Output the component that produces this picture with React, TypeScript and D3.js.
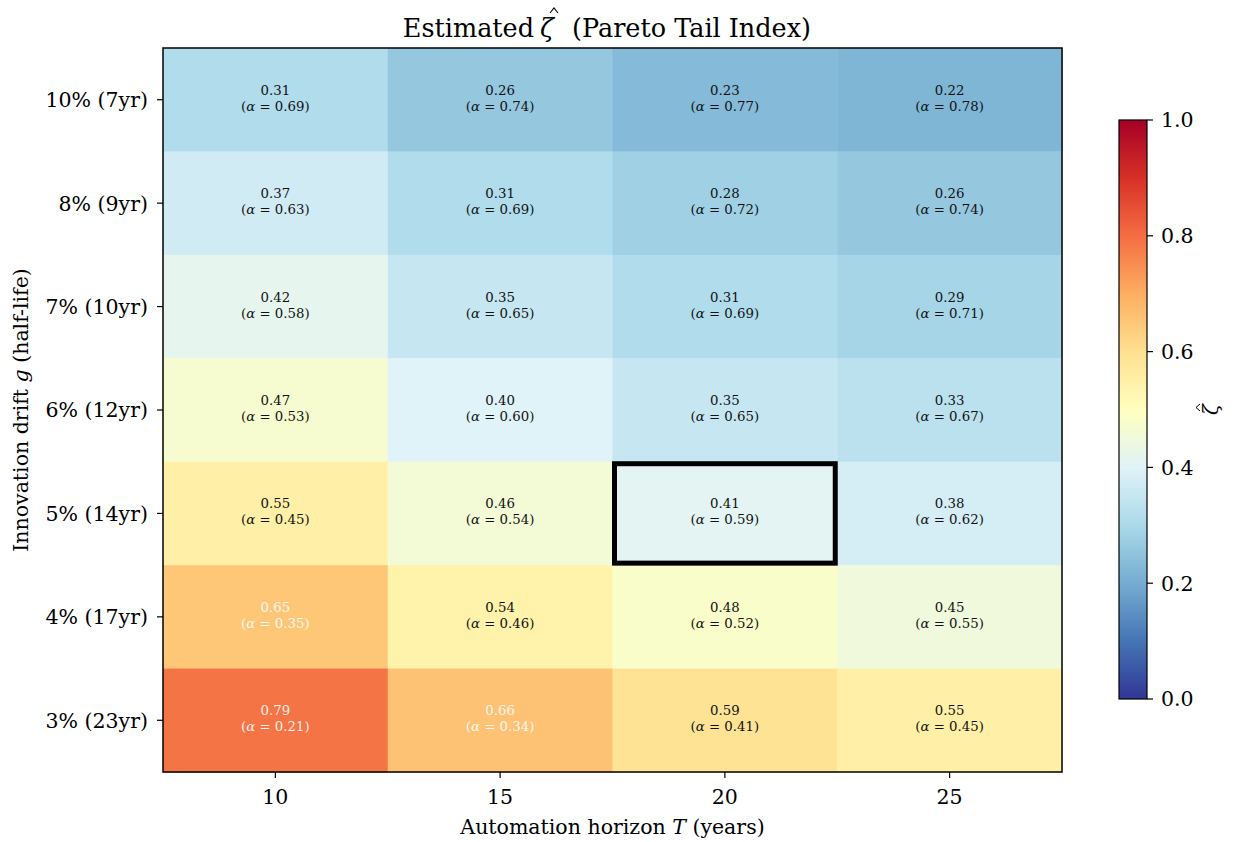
import * as d3 from "d3"

const columns = [10, 15, 20, 25]
const rowLabels = ["10% (7yr)", "8% (9yr)", "7% (10yr)", "6% (12yr)", "5% (14yr)", "4% (17yr)", "3% (23yr)"]
// zeta per row (top to bottom), per column
const zeta = [
    [0.31, 0.26, 0.23, 0.22],
    [0.37, 0.31, 0.28, 0.26],
    [0.42, 0.35, 0.31, 0.29],
    [0.47, 0.40, 0.35, 0.33],
    [0.55, 0.46, 0.41, 0.38],
    [0.65, 0.54, 0.48, 0.45],
    [0.79, 0.66, 0.59, 0.55],
]
const highlight = { row: "5% (14yr)", col: 20 }
const cbTicks = [0, 0.2, 0.4, 0.6, 0.8, 1.0]

const FONT = "'DejaVu Serif', 'Liberation Serif', serif"

export default function App() {
    const width = 1239
    const height = 842
    const margin = { top: 48, right: 177, bottom: 70, left: 163 }

    const x = d3.scaleBand<number>()
        .domain(columns)
        .range([margin.left, width - margin.right])
    const y = d3.scaleBand<string>()
        .domain(rowLabels)
        .range([margin.top, height - margin.bottom])

    // matplotlib style RdYlBu_r: linear through the brewer colours
    const brewer = [...d3.schemeRdYlBu[11]].reverse()
    const color = d3.scaleLinear<string>()
        .domain(d3.range(11).map(i => i / 10))
        .range(brewer)
        .interpolate(d3.interpolateRgb)

    const cb = { x: 1119, w: 28, top: 120, bottom: 699 }
    const cbScale = d3.scaleLinear().domain([0, 1]).range([cb.bottom, cb.top])

    const cells = zeta.flatMap((row, i) => row.map((v, j) => ({ v, row: rowLabels[i], col: columns[j] })))

    const hat = (cx: number, top: number, w: number, h: number) =>
        `M${cx - w / 2},${top + h} L${cx},${top} L${cx + w / 2},${top + h}`

    return (
        <svg width={width} height={height} viewBox={`0 0 ${width} ${height}`}
            style={{ position: "absolute", left: 0, top: 0, background: "#fff" }}
            fontFamily={FONT}>
            <defs>
                <linearGradient id="cbgrad" x1="0" y1="1" x2="0" y2="0">
                    {brewer.map((c, i) => <stop key={i} offset={`${i * 10}%`} stopColor={c} />)}
                </linearGradient>
            </defs>

            {/* title, split so the hat can sit over zeta */}
            <text x={534} y={37} textAnchor="end" fontSize={25.5}>Estimated</text>
            <text x={540} y={37} fontSize={25.5} fontStyle="italic">ζ</text>
            <path d={hat(554, 8, 8, 5)} fill="none" stroke="#000" strokeWidth={1.1} />
            <text x={572} y={37} fontSize={25.5}>(Pareto Tail Index)</text>

            {cells.map((c, k) => {
                const cx = x(c.col)! + x.bandwidth() / 2
                const cy = y(c.row)! + y.bandwidth() / 2
                const light = c.v > 0.6
                const fill = light ? "#fff" : "#111"
                return (
                    <g key={k}>
                        <rect x={x(c.col)} y={y(c.row)} width={x.bandwidth() + 0.5} height={y.bandwidth() + 0.5}
                            fill={color(c.v)} />
                        <text x={cx} y={cy - 5} textAnchor="middle" fontSize={13.3} fill={fill} fillOpacity={light ? 0.9 : 1}>
                            {c.v.toFixed(2)}
                        </text>
                        <text x={cx} y={cy + 11} textAnchor="middle" fontSize={13.3} fill={fill} fillOpacity={light ? 0.9 : 1}>
                            (<tspan fontStyle="italic">α</tspan> = {(1 - c.v).toFixed(2)})
                        </text>
                    </g>
                )
            })}

            <rect x={x(highlight.col)! + 2} y={y(highlight.row)! + 2}
                width={x.bandwidth() - 4} height={y.bandwidth() - 4}
                fill="none" stroke="#000" strokeWidth={5} />

            <rect x={margin.left} y={margin.top} width={x.range()[1] - margin.left} height={y.range()[1] - margin.top}
                fill="none" stroke="#000" strokeWidth={1.5} />

            {rowLabels.map(r => {
                const ty = y(r)! + y.bandwidth() / 2
                return (
                    <g key={r}>
                        <line x1={margin.left} x2={margin.left - 6} y1={ty} y2={ty} stroke="#000" strokeWidth={1.2} />
                        <text x={margin.left - 15} y={ty} dy="0.36em" textAnchor="end" fontSize={20.5}>{r}</text>
                    </g>
                )
            })}
            {columns.map(c => {
                const tx = x(c)! + x.bandwidth() / 2
                const by = y.range()[1]
                return (
                    <g key={c}>
                        <line x1={tx} x2={tx} y1={by} y2={by + 6} stroke="#000" strokeWidth={1.2} />
                        <text x={tx} y={by + 32} textAnchor="middle" fontSize={20.5}>{c}</text>
                    </g>
                )
            })}

            <text transform={`translate(28,${(y.range()[0] + y.range()[1]) / 2}) rotate(-90)`} textAnchor="middle" fontSize={20.5}>
                Innovation drift <tspan fontStyle="italic">g</tspan> (half-life)
            </text>
            <text x={(x.range()[0] + x.range()[1]) / 2} y={834} textAnchor="middle" fontSize={20.5}>
                Automation horizon <tspan fontStyle="italic">T</tspan> (years)
            </text>

            <rect x={cb.x} y={cb.top} width={cb.w} height={cb.bottom - cb.top} fill="url(#cbgrad)" stroke="#000" strokeWidth={1.2} />
            {cbTicks.map(t => (
                <g key={t}>
                    <line x1={cb.x + cb.w} x2={cb.x + cb.w + 6} y1={cbScale(t)} y2={cbScale(t)} stroke="#000" strokeWidth={1.2} />
                    <text x={cb.x + cb.w + 14} y={cbScale(t)} dy="0.36em" fontSize={20.5}>{t.toFixed(1)}</text>
                </g>
            ))}
            <g transform={`translate(1218,${(cb.top + cb.bottom) / 2}) rotate(-90)`}>
                <text x={0} y={0} textAnchor="middle" fontSize={20} fontStyle="italic">ζ</text>
                <path d={hat(2, -22, 7, 4)} fill="none" stroke="#000" strokeWidth={1} />
            </g>
        </svg>
    )
}
